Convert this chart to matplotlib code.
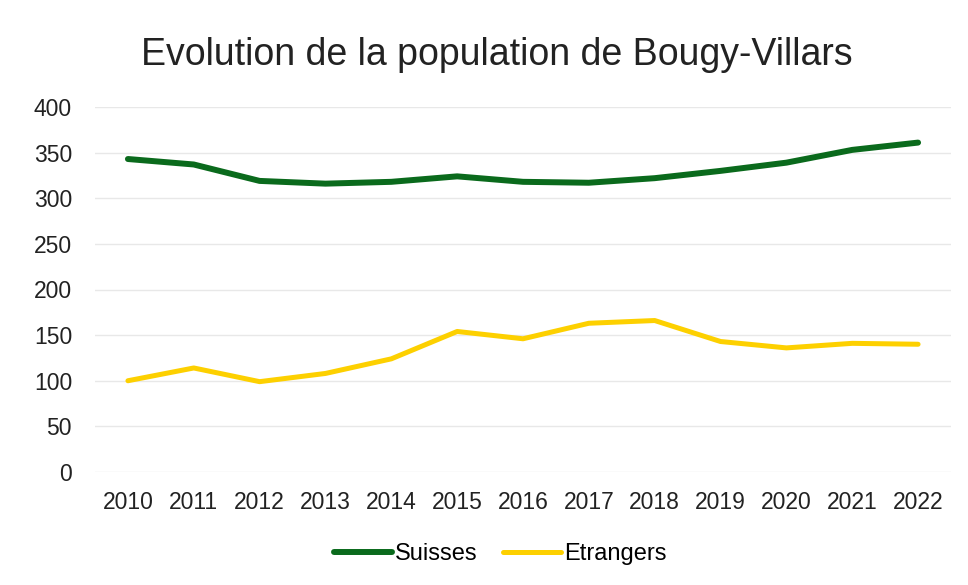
import matplotlib
matplotlib.use("Agg")
import matplotlib.pyplot as plt

years = ["2010", "2011", "2012", "2013", "2014", "2015", "2016",
         "2017", "2018", "2019", "2020", "2021", "2022"]
suisses = [343, 337, 319, 316, 318, 324, 318, 317, 322, 330, 339, 353, 361]
etrangers = [100, 114, 99, 108, 124, 154, 146, 163, 166, 143, 136, 141, 140]
yticks = [0, 50, 100, 150, 200, 250, 300, 350, 400]

plt.rcParams['font.family'] = ['Liberation Sans', 'DejaVu Sans']

fig = plt.figure(figsize=(9.68, 5.85), dpi=100)
ax = fig.add_axes([95/968, 1 - 472/585, (951-95)/968, (472-107)/585])

x = list(range(len(years)))
ax.plot(x, suisses, color="#0a6a1c", lw=4.3, solid_capstyle="round", label="Suisses")
ax.plot(x, etrangers, color="#fdd000", lw=3.6, solid_capstyle="round", label="Etrangers")

ax.set_xlim(-0.5, len(years) - 0.5)
ax.set_ylim(0, 400)
ax.set_yticks(yticks)
ax.set_xticks(x)
ax.set_xticklabels(years)
ax.tick_params(axis="both", length=0, labelsize=16.5, colors="#222222")
ax.tick_params(axis="y", pad=16.5)
ax.tick_params(axis="x", pad=14)
for s in ax.spines.values():
    s.set_visible(False)
ax.grid(axis="y", color="#e8e8e8", lw=1)
ax.set_axisbelow(True)

fig.text(497/968, 1 - 55/585, "Evolution de la population de Bougy-Villars",
         ha="center", va="center", fontsize=27, color="#222222")

fig.legend(loc="center", bbox_to_anchor=(500/968, 1 - 554/585), ncol=2,
           frameon=False, fontsize=17, handlelength=2.45, handletextpad=0.12,
           columnspacing=1.1)

fig.savefig("out.png", dpi=100, facecolor="white")
